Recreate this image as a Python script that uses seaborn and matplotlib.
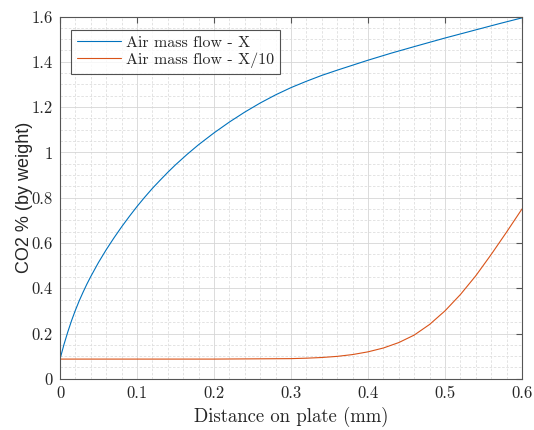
import matplotlib
matplotlib.use("Agg")
import matplotlib.pyplot as plt
from matplotlib.ticker import MultipleLocator
import seaborn as sns
import pandas as pd

# CO2 mass fraction along the plate for two air mass flow rates
dist_fast = [0.000, 0.005, 0.010, 0.015, 0.020, 0.025, 0.030, 0.035, 0.040, 0.050,
             0.060, 0.070, 0.080, 0.090, 0.100, 0.110, 0.120, 0.130, 0.140, 0.150,
             0.165, 0.180, 0.200, 0.220, 0.240, 0.260, 0.280, 0.300, 0.320, 0.340,
             0.360, 0.380, 0.400, 0.430, 0.460, 0.500, 0.540, 0.570, 0.600]
co2_fast = [0.087, 0.150, 0.206, 0.257, 0.303, 0.345, 0.383, 0.419, 0.452, 0.514,
            0.570, 0.622, 0.671, 0.717, 0.761, 0.802, 0.841, 0.877, 0.912, 0.945,
            0.991, 1.034, 1.086, 1.134, 1.178, 1.218, 1.254, 1.286, 1.314, 1.340,
            1.363, 1.385, 1.407, 1.438, 1.467, 1.505, 1.541, 1.568, 1.594]

dist_slow = [0.000, 0.100, 0.200, 0.250, 0.300, 0.320, 0.340, 0.360, 0.380, 0.400,
             0.420, 0.440, 0.460, 0.480, 0.500, 0.520, 0.540, 0.560, 0.580, 0.600]
co2_slow = [0.087, 0.087, 0.087, 0.088, 0.089, 0.091, 0.094, 0.099, 0.107, 0.119,
            0.136, 0.160, 0.193, 0.240, 0.300, 0.372, 0.455, 0.549, 0.648, 0.750]

labels = ["Air mass flow - X", "Air mass flow - X/10"]
colors = ["#0072BD", "#D95319"]

df = pd.concat([
    pd.DataFrame({"dist": dist_fast, "co2": co2_fast, "case": labels[0]}),
    pd.DataFrame({"dist": dist_slow, "co2": co2_slow, "case": labels[1]}),
])

sns.set_theme(style="white")
plt.rcParams["font.family"] = ["cmr10", "DejaVu Serif"]
plt.rcParams["axes.unicode_minus"] = False
plt.rcParams["axes.formatter.use_mathtext"] = True
plt.rcParams["mathtext.fontset"] = "cm"

fig = plt.figure(figsize=(5.34, 4.30), dpi=100)
ax = fig.add_axes([0.1124, 0.1191, 0.8651, 0.8425])

sns.lineplot(data=df, x="dist", y="co2", hue="case", palette=colors,
             linewidth=0.8, ax=ax, sort=False, estimator=None)

ax.set_xlim(0, 0.6)
ax.set_ylim(0, 1.6)
ax.xaxis.set_major_locator(MultipleLocator(0.1))
ax.xaxis.set_minor_locator(MultipleLocator(0.02))
ax.yaxis.set_major_locator(MultipleLocator(0.2))
ax.yaxis.set_minor_locator(MultipleLocator(0.05))


def fmt(v, pos):
    if abs(v) < 1e-9:
        return "0"
    s = f"{v:.1f}"
    return s[:-2] if s.endswith(".0") else s


ax.xaxis.set_major_formatter(plt.FuncFormatter(fmt))
ax.yaxis.set_major_formatter(plt.FuncFormatter(fmt))

edge = "#555555"
for sp in ax.spines.values():
    sp.set_visible(True)
    sp.set_color(edge)
    sp.set_linewidth(0.8)

ax.tick_params(which="major", direction="in", length=4, width=0.8, color=edge,
               top=True, right=True, labelsize=12, labelcolor="#262626", pad=5)
ax.tick_params(which="minor", direction="in", length=0, top=True, right=True)

ax.grid(which="major", color="#d6d6d6", linewidth=0.6, linestyle="-")
ax.grid(which="minor", color="#dedede", linewidth=0.6, linestyle=(0, (3, 2)))
ax.set_axisbelow(True)

ax.set_xlabel("Distance on plate (mm)", fontsize=13.5, color="#262626", labelpad=4)
ax.set_ylabel("CO2 % (by weight)", fontsize=13, color="#262626",
              family=["Liberation Sans", "DejaVu Sans"], labelpad=-1)

leg = ax.legend(loc="upper left", bbox_to_anchor=(0.024, 0.962), fontsize=11.5,
                frameon=True, fancybox=False, handlelength=2.8, handletextpad=0.3,
                borderpad=0.35, labelspacing=0.15, borderaxespad=0)
leg.get_frame().set_edgecolor("#262626")
leg.get_frame().set_linewidth(0.8)
leg.set_title(None)
for t in leg.get_texts():
    t.set_color("#262626")

fig.savefig("out.png", dpi=100)
